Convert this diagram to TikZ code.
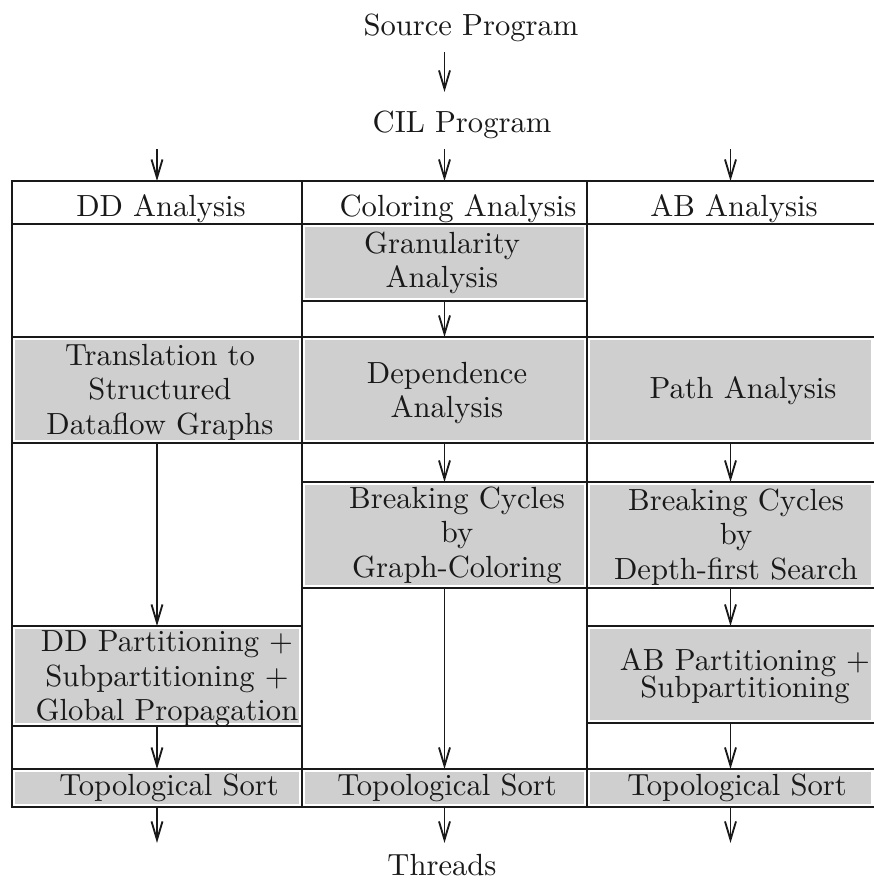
\documentclass[tikz,border=0pt]{standalone}
\usetikzlibrary{arrows.meta,fit}
\definecolor{cellgray}{gray}{0.81}
\definecolor{inkgray}{gray}{0.10}
\begin{document}
\begin{tikzpicture}[x=0.3268pt,y=-0.3268pt,
  font=\fontsize{10}{11.3}\selectfont,
  every node/.style={text=inkgray},
  rule/.style={draw=inkgray,line width=0.9pt,line cap=rect},
  arr/.style={draw=inkgray,line width=0.6pt,-{Straight Barb[length=6pt,width=3.6pt]}},
  cell/.style={inner sep=0pt,outer sep=0pt},
  txt/.style={align=center,inner sep=0pt},
  lone/.style={anchor=base}]
\useasboundingbox (0,0) rectangle (874,880);

% table cells (full cell rectangles, used as anchors)
\node[cell,fit={(12,181) (302,224)}]  (hdd)   {};
\node[cell,fit={(302,181) (587,224)}] (hcol)  {};
\node[cell,fit={(587,181) (874,224)}] (hab)   {};
\node[cell,fit={(302,224) (587,301)}] (gran)  {};
\node[cell,fit={(12,337) (302,443)}]  (trans) {};
\node[cell,fit={(302,337) (587,443)}] (dep)   {};
\node[cell,fit={(587,337) (874,443)}] (path)  {};
\node[cell,fit={(302,482) (587,588)}] (bcgc)  {};
\node[cell,fit={(587,482) (874,588)}] (bcdf)  {};
\node[cell,fit={(12,626) (302,726)}]  (ddp)   {};
\node[cell,fit={(587,626) (874,723)}] (abp)   {};
\node[cell,fit={(12,769) (302,807)}]  (ts1)   {};
\node[cell,fit={(302,769) (587,807)}] (ts2)   {};
\node[cell,fit={(587,769) (874,807)}] (ts3)   {};

% shaded phase boxes, slightly inset from the rules
\foreach \c in {gran,trans,dep,path,bcgc,bcdf,ddp,abp,ts1,ts2,ts3}
  \fill[cellgray] ([shift={(1pt,-1pt)}]\c.north west) rectangle ([shift={(-1pt,1pt)}]\c.south east);

% horizontal rules
\draw[rule] (hdd.north west) -- (hab.north east);
\draw[rule] (hdd.south west) -- (hab.south east);
\draw[rule] (gran.south west) -- (gran.south east);
\draw[rule] (trans.north west) -- (path.north east);
\draw[rule] (trans.south west) -- (path.south east);
\draw[rule] (bcgc.north west) -- (bcdf.north east);
\draw[rule] (bcgc.south west) -- (bcdf.south east);
\draw[rule] (ddp.north west) -- (ddp.north east);
\draw[rule] (ddp.south west) -- (ddp.south east);
\draw[rule] (abp.north west) -- (abp.north east);
\draw[rule] (abp.south west) -- (abp.south east);
\draw[rule] (ts1.north west) -- (ts3.north east);
\draw[rule] (ts1.south west) -- (ts3.south east);
% vertical rules
\draw[rule] (hdd.north west) -- (ts1.south west);
\draw[rule] (hdd.north east) -- (ts1.south east);
\draw[rule] (hab.north west) -- (ts3.south west);

% texts outside the table
\node[lone] (src) at (471,35)  {Source Program};
\node[lone] (cil) at (462,132) {CIL Program};
\node[lone] (thr) at (442,875) {Threads};

% column headings
\node[lone,inner sep=0pt] (hddT)  at (161,216) {DD Analysis};
\node[lone,inner sep=0pt] (hcolT) at (458,216) {Coloring Analysis};
\node[lone,inner sep=0pt] (habT)  at (734,216) {AB Analysis};

% phase texts
\node[txt] (granT)  at (442,263) {Granularity\\Analysis};
\node[txt] (transT) at (160,392) {Translation to\\Structured\\Dataflow Graphs};
\node[txt] (depT)   at (447,393) {Dependence\\Analysis};
\node[lone,inner sep=0pt] (pathT) at (743,398) {Path Analysis};
\node[txt] (bcgcT)  at (457,535) {Breaking Cycles\\by\hspace*{14pt}\\Graph-Coloring};
\node[txt] (bcdfT)  at (736,537) {Breaking Cycles\\by\hspace*{5pt}\\Depth-first Search};
\node[txt] (ddpT)   at (167,679) {DD Partitioning +\\Subpartitioning +\\Global Propagation};
\node[txt] (abpT)   at (745,676) {AB Partitioning +\\[-2.6pt]Subpartitioning};
\node[lone,inner sep=0pt] (ts1T) at (169,795) {Topological Sort};
\node[lone,inner sep=0pt] (ts2T) at (447,795) {Topological Sort};
\node[lone,inner sep=0pt] (ts3T) at (737,795) {Topological Sort};

% flow arrows
\draw[arr,shorten >=2.5pt] (hcol.north |- src.south) -- (hcol.north |- cil.north);
\draw[arr] (hdd.north |- cil.south) -- (hdd.north);
\draw[arr] (hcol.north |- cil.south) -- (hcol.north);
\draw[arr] (hab.north |- cil.south) -- (hab.north);
\draw[arr] (gran.south) -- (dep.north);
\draw[arr] (trans.south) -- (ddp.north);
\draw[arr] (dep.south) -- (bcgc.north);
\draw[arr] (path.south) -- (bcdf.north);
\draw[arr] (bcgc.south) -- (ts2.north);
\draw[arr] (bcdf.south) -- (abp.north);
\draw[arr] (ddp.south) -- (ts1.north);
\draw[arr] (abp.south) -- (ts3.north);
\draw[arr] (ts1.south) -- (ts1.south |- thr.north);
\draw[arr] (ts2.south) -- (ts2.south |- thr.north);
\draw[arr] (ts3.south) -- (ts3.south |- thr.north);
\end{tikzpicture}
\end{document}
